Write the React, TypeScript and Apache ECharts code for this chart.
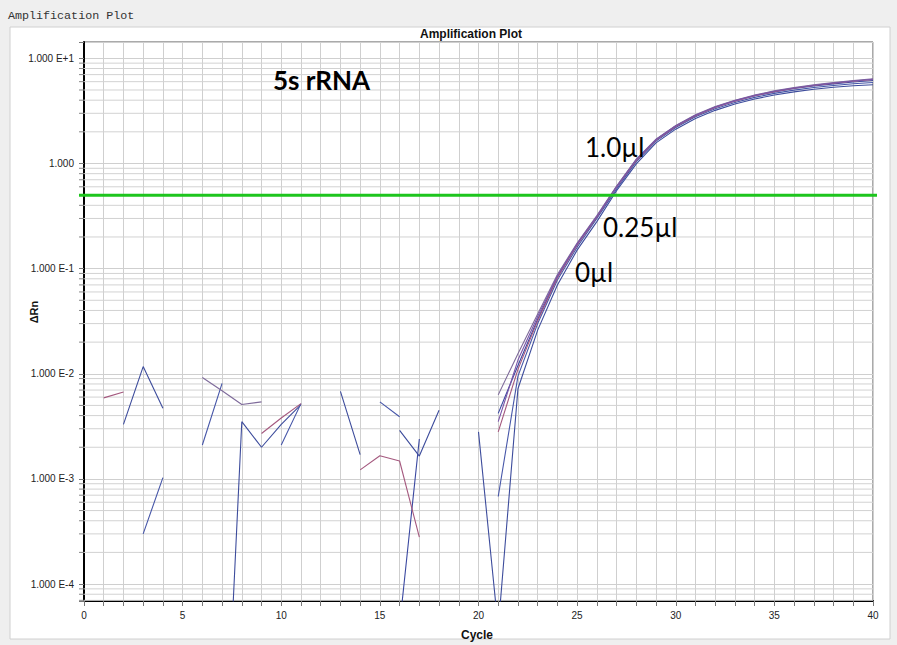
import React, { useEffect, useRef } from 'react';
import * as echarts from 'echarts';

const cycles = [1, 2, 3, 4, 5, 6, 7, 8, 9, 10, 11, 12, 13, 14, 15, 16, 17, 18, 19, 20,
  21, 22, 23, 24, 25, 26, 27, 28, 29, 30, 31, 32, 33, 34, 35, 36, 37, 38, 39, 40];

// ΔRn values per well (null = negative / not plotted on the log scale)
const wellB1 = [null, 0.0033, 0.0117, 0.0047, null, null, 4e-7, 0.0035, 0.002, 0.0033,
  0.0051, null, 0.0068, 0.0017, null, 0.0029, 0.00165, 0.0045, null, 0.0028,
  3.8e-5, 0.0072, 0.026, 0.07, 0.15, 0.28, 0.55, 0.99, 1.57, 2.12,
  2.68, 3.2, 3.68, 4.1, 4.48, 4.8, 5.08, 5.3, 5.48, 5.6];
const wellB2 = [null, null, 0.0003, 0.00103, null, 0.0021, 0.0081, null, null, 0.0021,
  0.0052, null, null, null, 0.0054, 0.0039, null, null, null, null,
  0.00068, 0.0095, 0.03, 0.078, 0.16, 0.3, 0.57, 1.04, 1.63, 2.2,
  2.78, 3.32, 3.8, 4.25, 4.64, 4.98, 5.28, 5.52, 5.74, 5.9];
const wellB3 = [null, null, null, null, null, null, null, null, null, null,
  null, null, null, null, null, 4e-5, 0.0024, null, null, null,
  0.0042, 0.012, 0.033, 0.083, 0.17, 0.31, 0.6, 1.08, 1.68, 2.27,
  2.86, 3.42, 3.93, 4.4, 4.8, 5.16, 5.46, 5.72, 5.95, 6.15];
const wellR1 = [0.0059, 0.0067, null, null, null, null, null, null, 0.0027, 0.0038,
  0.0052, null, null, 0.00122, 0.00166, 0.00148, 0.00028, null, null, null,
  0.0028, 0.011, 0.032, 0.082, 0.168, 0.31, 0.6, 1.07, 1.67, 2.25,
  2.84, 3.4, 3.92, 4.4, 4.82, 5.2, 5.52, 5.8, 6.05, 6.3];
const wellR2 = [null, null, null, null, null, 0.0092, 0.0069, 0.0051, 0.0054, null,
  null, null, null, null, null, null, null, null, null, null,
  0.0063, 0.0155, 0.037, 0.088, 0.175, 0.32, 0.61, 1.1, 1.7, 2.3,
  2.9, 3.48, 4.0, 4.48, 4.9, 5.28, 5.6, 5.88, 6.14, 6.4];
const wellP1 = [null, null, null, null, null, null, null, null, null, null,
  null, null, null, null, null, null, null, null, null, null,
  0.0035, 0.0135, 0.035, 0.085, 0.172, 0.315, 0.6, 1.09, 1.69, 2.27,
  2.87, 3.44, 3.96, 4.44, 4.86, 5.23, 5.55, 5.83, 6.08, 6.32];

const wells = [
  { name: 'B1', values: wellB1, color: '#3d4c9c' },
  { name: 'B2', values: wellB2, color: '#4656a8' },
  { name: 'B3', values: wellB3, color: '#3a48a0' },
  { name: 'R1', values: wellR1, color: '#a4587e' },
  { name: 'R2', values: wellR2, color: '#7e6a9a' },
  { name: 'P1', values: wellP1, color: '#7a55a8' },
];

const threshold = 0.5;
const decades = [-5, -4, -3, -2, -1, 0, 1];
const minorMultipliers = [2, 3, 4, 5, 6, 7, 8, 9];
const yMin = 6.9e-5;
const yMax = 14.3;

const minorValues: number[] = [];
decades.forEach((d) => {
  minorMultipliers.forEach((m) => {
    const v = m * Math.pow(10, d);
    if (v > yMin && v < yMax) minorValues.push(v);
  });
});

const annotations = [
  { text: '1.0µl', x: 585, y: 147 },
  { text: '0.25µl', x: 603, y: 227 },
  { text: '0µl', x: 575, y: 272 },
];

function fmtY(v: number) {
  const l = Math.log10(v);
  const e = Math.round(l);
  if (Math.abs(l - e) > 0.01) return '';
  if (e === 0) return '1.000';
  return '1.000 E' + (e > 0 ? '+' : '') + e;
}

export default function App() {
  const ref = useRef<HTMLDivElement>(null);
  useEffect(() => {
    if (!ref.current) return;
    const chart = echarts.init(ref.current, null, { renderer: 'svg' });
    const gridLeft = 84;
    const gridTop = 42;
    const gridW = 789;
    const gridH = 559;

    const lineSeries = wells.map((w) => ({
      name: w.name,
      type: 'line',
      data: cycles.map((c, i) => [c, w.values[i]]),
      showSymbol: false,
      symbol: 'none',
      connectNulls: false,
      clip: true,
      z: 5,
      lineStyle: { color: w.color, width: 1.1 },
      silent: true,
    }));

    const option: any = {
      animation: false,
      backgroundColor: '#efefef',
      grid: {
        left: gridLeft, top: gridTop, width: gridW, height: gridH,
        show: true, backgroundColor: '#ffffff', borderColor: '#555', borderWidth: 1,
      },
      xAxis: {
        type: 'value', min: 0, max: 40, interval: 1,
        axisLine: { show: true, lineStyle: { color: '#000', width: 2 } },
        axisTick: { show: true, length: 5, lineStyle: { color: '#777' } },
        axisLabel: {
          formatter: (v: number) => (v % 5 === 0 ? String(v) : ''),
          fontSize: 10, color: '#222', fontFamily: '"Liberation Sans", Arial', margin: 9,
        },
        splitLine: { show: true, lineStyle: { color: '#cfcfcf', width: 1 } },
      },
      yAxis: {
        type: 'log', logBase: 10, min: yMin, max: yMax,
        axisLine: { show: true, lineStyle: { color: '#000', width: 2 } },
        axisTick: { show: true, length: 5, lineStyle: { color: '#777' } },
        axisLabel: {
          formatter: fmtY, fontSize: 10, color: '#222',
          fontFamily: '"Liberation Sans", Arial', margin: 10,
        },
        splitLine: { show: true, lineStyle: { color: '#cfcfcf', width: 1 } },
      },
      series: [
        {
          type: 'custom',
          name: 'minor',
          silent: true,
          z: 1,
          data: minorValues.map((v) => [0, v]),
          renderItem: (params: any, api: any) => {
            const p = api.coord([0, api.value(1)]);
            const cs = params.coordSys;
            return {
              type: 'group',
              children: [
                { type: 'line', shape: { x1: cs.x, y1: p[1], x2: cs.x + cs.width, y2: p[1] }, style: { stroke: '#d2d2d2', lineWidth: 1 } },
                { type: 'line', shape: { x1: cs.x - 5, y1: p[1], x2: cs.x, y2: p[1] }, style: { stroke: '#888', lineWidth: 1 } },
              ],
            };
          },
        },
        ...lineSeries,
        {
          type: 'custom',
          name: 'threshold',
          silent: true,
          z: 8,
          data: [[0, threshold]],
          renderItem: (params: any, api: any) => {
            const p = api.coord([0, api.value(1)]);
            const cs = params.coordSys;
            return {
              type: 'line',
              shape: { x1: cs.x - 5, y1: p[1], x2: cs.x + cs.width + 4, y2: p[1] },
              style: { stroke: '#1dc51d', lineWidth: 3 },
            };
          },
        },
      ],
      graphic: [
        { type: 'rect', z: -10, shape: { x: 10, y: 27, width: 880, height: 612 }, style: { fill: '#ffffff', stroke: '#d0d0d0', lineWidth: 1 } },
        { type: 'text', x: 8, y: 16, style: { text: 'Amplification Plot', font: '11.7px "Liberation Mono", "DejaVu Sans Mono", monospace', fill: '#333', verticalAlign: 'middle', align: 'left' } },
        { type: 'text', x: 471, y: 34, style: { text: 'Amplification Plot', font: 'bold 12px "Liberation Sans", Arial', fill: '#111', align: 'center', verticalAlign: 'middle' } },
        { type: 'text', x: 273, y: 80, z: 20, style: { text: '5s rRNA', font: 'bold 26px Lato, "Open Sans", sans-serif', fill: '#000', align: 'left', verticalAlign: 'middle' } },
        ...annotations.map((a) => ({
          type: 'text', x: a.x, y: a.y, z: 20,
          style: { text: a.text, font: '26px Lato, "Open Sans", sans-serif', fill: '#000', align: 'left', verticalAlign: 'middle' },
        })),
        { type: 'text', x: 34, y: 312, rotation: Math.PI / 2, style: { text: 'ΔRn', font: 'bold 11px "Liberation Sans", Arial', fill: '#111', align: 'center', verticalAlign: 'middle' } },
        { type: 'text', x: 477, y: 635, style: { text: 'Cycle', font: 'bold 12px "Liberation Sans", Arial', fill: '#111', align: 'center', verticalAlign: 'middle' } },
      ],
    };
    chart.setOption(option);
    return () => chart.dispose();
  }, []);
  return <div ref={ref} style={{ position: 'fixed', left: 0, top: 0, width: 897, height: 645 }} />;
}
